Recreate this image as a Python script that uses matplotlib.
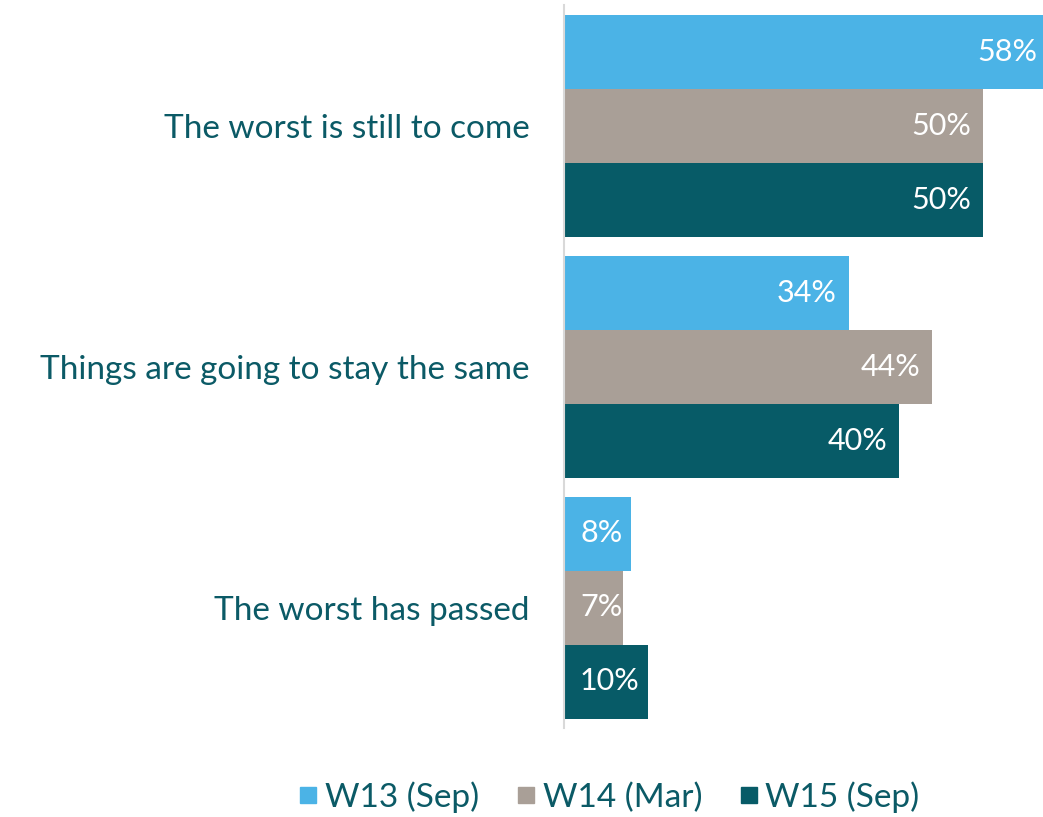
import matplotlib
matplotlib.use('Agg')
import matplotlib.pyplot as plt
import numpy as np
from matplotlib.lines import Line2D

plt.rcParams['font.family'] = ['Lato', 'DejaVu Sans']

categories = ['The worst is still to come', 'Things are going to stay the same', 'The worst has passed']
waves = ['W13 (Sep)', 'W14 (Mar)', 'W15 (Sep)']
w13 = [58, 34, 8]
w14 = [50, 44, 7]
w15 = [50, 40, 10]

colors = ['#4bb3e6', '#a99f97', '#075b67']
text_col = '#0b5a66'

fig = plt.figure(figsize=(10.43, 8.17), dpi=100)
ax = fig.add_axes([564 / 1043, 1 - 728 / 817, 1 - 564 / 1043, 723 / 817])

bar_h = 74 / 241
ypos = np.arange(len(categories))
px_per_unit = 479 / 57.2

for k, (vals, col) in enumerate(zip([w13, w14, w15], colors)):
    y = ypos + (k - 1) * bar_h
    bars = ax.barh(y, vals, height=bar_h, color=col)
    for b, v in zip(bars, vals):
        yc = b.get_y() + bar_h / 2
        # long bars get the label at the end, short ones near the axis
        if v >= 20:
            ax.text(v - 12 / px_per_unit, yc, f'{v}%', ha='right', va='center',
                    color='white', fontsize=22)
        else:
            ax.text(16 / px_per_unit, yc, f'{v}%', ha='left', va='center',
                    color='white', fontsize=22)

ax.set_xlim(0, 57.2)
ax.set_ylim(2.5, -0.5)
for s in ['top', 'right', 'bottom']:
    ax.spines[s].set_visible(False)
ax.spines['left'].set_color('#d9d9d9')
ax.spines['left'].set_linewidth(1.5)
ax.set_xticks([])
ax.set_yticks(ypos)
ax.set_yticklabels(categories, fontsize=24, color=text_col)
ax.tick_params(axis='y', length=0, pad=25)

handles = [Line2D([], [], marker='s', linestyle='', markersize=11, color=c) for c in colors]
leg = fig.legend(handles, waves, loc='center', bbox_to_anchor=(609 / 1043, 1 - 797 / 817),
                 ncol=3, frameon=False, fontsize=24, handletextpad=0.2,
                 columnspacing=1.1, handlelength=0.6)
for t in leg.get_texts():
    t.set_color(text_col)

fig.savefig('out.png', dpi=100)
